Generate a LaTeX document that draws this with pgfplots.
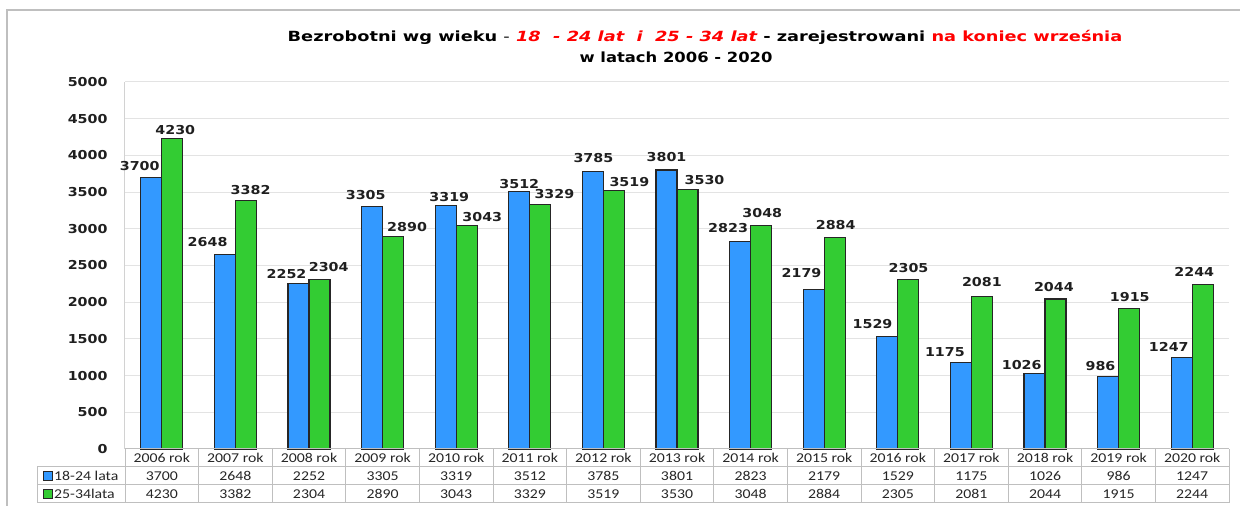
\documentclass[border=0pt]{standalone}
\usepackage{fontspec}
\usepackage{pgfplots}
\usepackage{pgfplotstable}
\pgfplotsset{compat=1.18}
\setmainfont{DejaVu Sans}
\newfontfamily\numfont[FakeStretch=1.16]{DejaVu Sans}
\newfontfamily\titlefont[FakeStretch=1.17]{DejaVu Sans}
\newfontfamily\tabfont[FakeStretch=1.17]{Carlito}
\definecolor{barblue}{HTML}{3399FF}
\definecolor{bargreen}{HTML}{33CC33}
\definecolor{barline}{HTML}{262626}
\definecolor{titlered}{HTML}{FF0000}
\definecolor{tabline}{HTML}{BFBFBF}

\pgfplotstableread{
x a b adx ady bdx bdy
0 3700 4230 -11.6 11.7 3.0 8.5
1 2648 3382 -17.3 12.3 4.7 10.8
2 2252 2304 -12.0 9.4 9.2 13.2
3 3305 2890 -6.4 11.4 14.0 10.2
4 3319 3043 3.6 8.4 15.6 8.6
5 3512 3329 0.0 7.2 14.1 10.6
6 3785 3519 0.5 12.9 15.5 9.0
7 3801 3530 0.0 13.3 17.0 9.9
8 2823 3048 -12.0 13.5 1.2 12.0
9 2179 2884 -12.2 15.8 1.0 12.3
10 1529 2305 -14.8 12.5 0.2 12.1
11 1175 2081 -16.0 11.0 0.0 14.0
12 1026 2044 -12.8 8.7 -1.6 12.3
13 986 1915 -7.6 10.9 0.7 11.7
14 1247 2244 -12.9 10.2 -8.4 12.6
}\data

\begin{document}
\begin{tikzpicture}[x=1pt,y=1pt]
\useasboundingbox (0,0) rectangle (1240,506);
\draw[tabline, line width=1.5pt] (7,-10) -- (7,496) -- (1260,496);

\begin{axis}[
  at={(125pt,57pt)}, anchor=south west,
  scale only axis, width=1104pt, height=367pt,
  xmin=-0.5, xmax=14.5, ymin=0, ymax=5000,
  ybar=0pt, bar width=21pt,
  xtick=\empty, ytick={0,500,...,5000},
  ymajorgrids, grid style={draw=gray!22, line width=1pt},
  axis x line=none, axis y line*=left,
  y axis line style={draw=gray!35, line width=1pt, -},
  major tick length=0pt,
  yticklabel style={font=\numfont\bfseries\fontsize{12.3}{14}\selectfont, text=black!88, xshift=-14pt},
  /pgf/number format/1000 sep={},
  /pgf/number format/assume math mode=true,
  clip=false,
  nodes near coords,
  every node near coord/.append style={font=\numfont\bfseries\fontsize{12.3}{14}\selectfont, text=black!88, anchor=center},
]
\addplot[fill=barblue, draw=barline, line width=1.1pt,
  visualization depends on={\thisrow{adx} \as \ldx},
  visualization depends on={\thisrow{ady} \as \ldy},
  every node near coord/.append style={xshift=\ldx pt, yshift=\ldy pt}]
  table[x=x, y=a]{\data};
\addplot[fill=bargreen, draw=barline, line width=1.1pt,
  visualization depends on={\thisrow{bdx} \as \gdx},
  visualization depends on={\thisrow{bdy} \as \gdy},
  every node near coord/.append style={xshift=\gdx pt, yshift=\gdy pt}]
  table[x=x, y=b]{\data};
\end{axis}

% title
\node[anchor=base, font=\titlefont\bfseries\fontsize{14}{16}\selectfont] at (705,464.3)
  {\scalebox{1.085}[1]{Bezrobotni wg wieku {\mdseries -} \textcolor{titlered}{\itshape 18\ \ - 24 lat\ \ i\ \ 25 - 34 lat} - zarejestrowani \textcolor{titlered}{na koniec września}}};
\node[anchor=base, font=\titlefont\bfseries\fontsize{14}{16}\selectfont] at (676,443.7)
  {w latach 2006 - 2020};

% data table
\begin{scope}[tabline, line width=1pt]
  \draw (125,57) -- (1229,57);
  \draw (37,39) -- (1229,39);
  \draw (37,21) -- (1229,21);
  \draw (37,3) -- (1229,3);
  \draw (37,3) -- (37,39);
  \foreach \k in {0,...,15} {\draw ({125+73.6*\k},3) -- ({125+73.6*\k},57);}
\end{scope}
\filldraw[fill=barblue, draw=barline, line width=0.8pt] (43,25.5) rectangle (52,34.5);
\filldraw[fill=bargreen, draw=barline, line width=0.8pt] (43,7.5) rectangle (52,16.5);
\node[anchor=west, inner sep=0pt, font=\tabfont\fontsize{13.5}{15}\selectfont, text=black!85] at (54,30) {18-24 lata};
\node[anchor=west, inner sep=0pt, font=\tabfont\fontsize{13.5}{15}\selectfont, text=black!85] at (54,12) {25-34lata};
\foreach \i in {0,...,14} {
  \pgfplotstablegetelem{\i}{a}\of\data \edef\va{\pgfplotsretval}
  \pgfplotstablegetelem{\i}{b}\of\data \edef\vb{\pgfplotsretval}
  \pgfmathsetmacro\xc{125+73.6*(\i+0.5)}
  \pgfmathtruncatemacro\yr{2006+\i}
  \node[font=\tabfont\fontsize{13.5}{15}\selectfont, text=black!85] at (\xc,48) {\yr\ rok};
  \node[font=\tabfont\fontsize{13.5}{15}\selectfont, text=black!85] at (\xc,30) {\va};
  \node[font=\tabfont\fontsize{13.5}{15}\selectfont, text=black!85] at (\xc,12) {\vb};
}
\end{tikzpicture}
\end{document}
